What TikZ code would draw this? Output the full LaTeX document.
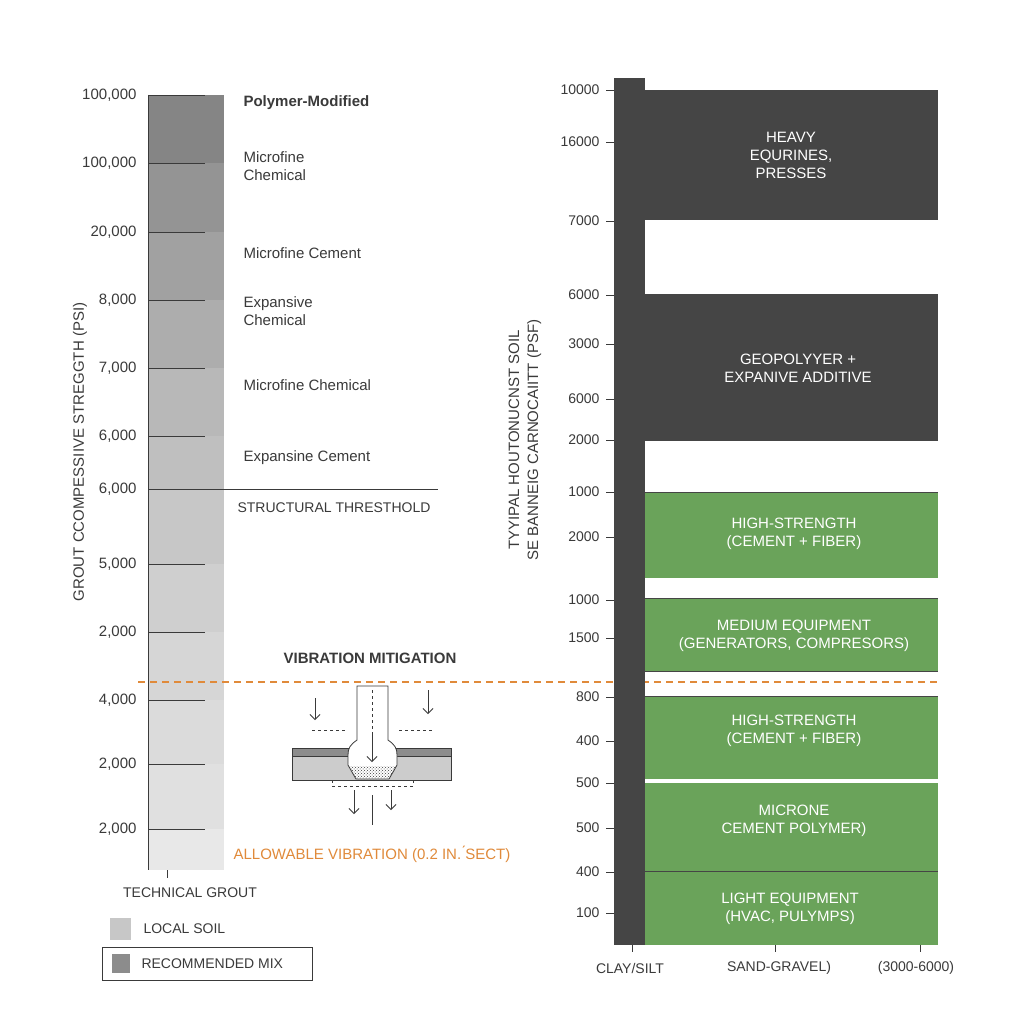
\documentclass[tikz,border=0pt]{standalone}
\usepackage{fontspec}
\setmainfont{Liberation Sans}
\usetikzlibrary{arrows.meta,patterns}
\definecolor{dk}{HTML}{454545}
\definecolor{gr}{HTML}{6AA35A}
\definecolor{og}{HTML}{E08A3A}
\definecolor{tx}{HTML}{3A3A3A}
\begin{document}
\begin{tikzpicture}[x=1pt,y=-1pt,
  lbl/.style={font=\fontsize{15}{17}\selectfont,text=tx,anchor=east},
  rl/.style={font=\fontsize{15}{18}\selectfont,text=tx,anchor=west,align=left},
  wt/.style={font=\fontsize{15}{18}\selectfont,text=white,align=center},
  tk/.style={draw=tx,line width=0.8pt},
  arr/.style={-{Straight Barb[length=5pt]},draw=tx,line width=0.8pt}]
\useasboundingbox[fill=white] (0,0) rectangle (1024,1024);
% left bar bands
\foreach \a/\b/\g in {95/163/52,163/232/58,232/300/63,300/368/68,368/436/72,436/489/75,489/564/78,564/632/81,632/700/84,700/764/86,764/829/88,829/870/91}
  {\fill[black!\the\numexpr100-\g\relax] (148,\a) rectangle (224,\b);}
\draw[tx,line width=0.8pt] (148,95) -- (148,870);
\foreach \y/\t in {95/{100,000},163/{100,000},232/{20,000},300/{8,000},368/{7,000},436/{6,000},489/{6,000},564/{5,000},632/{2,000},700/{4,000},764/{2,000},829/{2,000}}
  {\draw[tk] (148,\y) -- (205,\y); \node[lbl] (l\y) at (140,\y) {\t};}
\draw[tk] (148,489) -- (438,489);
\node[rl] (p1) at (240,103) {\textbf{Polymer-Modified}};
\node[rl] (p2) at (240,166) {Microfine\\Chemical};
\node[rl] (p3) at (240,253) {Microfine Cement};
\node[rl] (p4) at (240,311) {Expansive\\Chemical};
\node[rl] (p5) at (240,385) {Microfine Chemical};
\node[rl] (p6) at (240,458) {Expansine Cement};
\node[rl,font=\fontsize{14}{16}\selectfont] (st) at (234,508) {STRUCTURAL THRESTHOLD};
\node[rotate=90,font=\fontsize{15}{17}\selectfont,text=tx] (ly) at (80,452) {GROUT CCOMPESSIIVE STREGGTH (PSI)};
% legend
\draw[tk] (167,870) -- (167,878);
\node[font=\fontsize{14}{16}\selectfont,text=tx] (tg) at (190,893) {TECHNICAL GROUT};
\fill[black!22] (110,918) rectangle (131,940);
\node[rl,font=\fontsize{14}{16}\selectfont] (ls) at (140,929) {LOCAL SOIL};
\draw[tx,line width=0.8pt] (102,947) rectangle (312,980);
\fill[black!45] (112,954) rectangle (130,973);
\node[rl,font=\fontsize{14}{16}\selectfont] (rm) at (138,964) {RECOMMENDED MIX};
% vibration
\node[font=\fontsize{15}{17}\selectfont\bfseries,text=tx] (vm) at (370,658) {VIBRATION MITIGATION};
\draw[og,dashed,line width=1.2pt,dash pattern=on 7pt off 5pt] (138,682) -- (938,682);
\node[font=\fontsize{15}{17}\selectfont,text=og] (av) at (372,854) {ALLOWABLE VIBRATION (0.2 IN.\'{}SECT)};
\draw[fill=black!45,draw=tx] (292,748) rectangle (451,756);
\draw[fill=black!20,draw=tx] (292,756) rectangle (451,780);
\draw[fill=white,draw=tx,line width=0.8pt] (357,686) -- (357,740) .. controls (350,745) and (348,748) .. (348,755) -- (348,765) -- (356,779) -- (389,779) -- (397,765) -- (397,755) .. controls (397,748) and (395,745) .. (388,740) -- (388,686) -- cycle;
\fill[pattern=crosshatch dots,pattern color=tx] (348,766) -- (356,779) -- (389,779) -- (397,766) -- cycle;
\draw[dashed,tx] (372,690) -- (372,760);
\draw[arr] (372,735) -- (372,762);
\draw[dashed,tx] (312,730) -- (346,730);
\draw[dashed,tx] (399,730) -- (433,730);
\draw[arr] (315,698) -- (315,720);
\draw[arr] (428,690) -- (428,714);
\draw[dashed,tx] (332,780) rectangle (413,786);
\draw[arr] (354,790) -- (354,814);
\draw[arr] (391,790) -- (391,810);
\draw[tk] (372,795) -- (372,825);
% right chart
\fill[dk] (614,78) rectangle (645,945);
\fill[dk] (645,90) rectangle (938,220);
\fill[dk] (645,294) rectangle (938,441);
\fill[gr] (645,492) rectangle (938,578);
\fill[gr] (645,598) rectangle (938,671);
\fill[gr] (645,696) rectangle (938,779);
\fill[gr] (645,783) rectangle (938,945);
\draw[dk,line width=1pt] (645,492) -- (938,492) (645,598) -- (938,598) (645,671) -- (938,671) (645,696) -- (938,696) (645,871) -- (938,871);
\node[wt] (b1) at (791,155) {HEAVY\\EQURINES,\\PRESSES};
\node[wt] (b2) at (798,368) {GEOPOLYYER +\\EXPANIVE ADDITIVE};
\node[wt] (b3) at (794,534) {HIGH-STRENGTH\\(CEMENT + FIBER)};
\node[wt] (b4) at (794,636) {MEDIUM EQUIPMENT\\(GENERATORS, COMPRESORS)};
\node[wt] (b5) at (794,731) {HIGH-STRENGTH\\(CEMENT + FIBER)};
\node[wt] (b6) at (794,821) {MICRONE\\CEMENT POLYMER)};
\node[wt] (b7) at (790,909) {LIGHT EQUIPMENT\\(HVAC, PULYMPS)};
\foreach \y/\t in {90/10000,142/16000,221/7000,295/6000,344/3000,399/6000,440/2000,492/1000,537/2000,600/1000,638/1500,697/800,741/400,783/500,828/500,872/400,913/100}
  {\draw[tk] (606,\y) -- (614,\y); \node[lbl,font=\fontsize{14}{16}\selectfont] (r\y) at (603,\y) {\t};}
\node[rotate=90,align=center,font=\fontsize{15}{19}\selectfont,text=tx] (ry) at (525,440) {TYYIPAL HOUTONUCNST SOIL\\SE BANNEIG CARNOCAIITT (PSF)};
\foreach \x in {632,775,920} {\draw[tk] (\x,945) -- (\x,952);}
\node[font=\fontsize{14}{16}\selectfont,text=tx] (c1) at (630,968) {CLAY/SILT};
\node[font=\fontsize{14}{16}\selectfont,text=tx] (c2) at (779,968) {SAND-GRAVEL)};
\node[font=\fontsize{14}{16}\selectfont,text=tx] (c3) at (916,968) {(3000-6000)};
\end{tikzpicture}
\end{document}
